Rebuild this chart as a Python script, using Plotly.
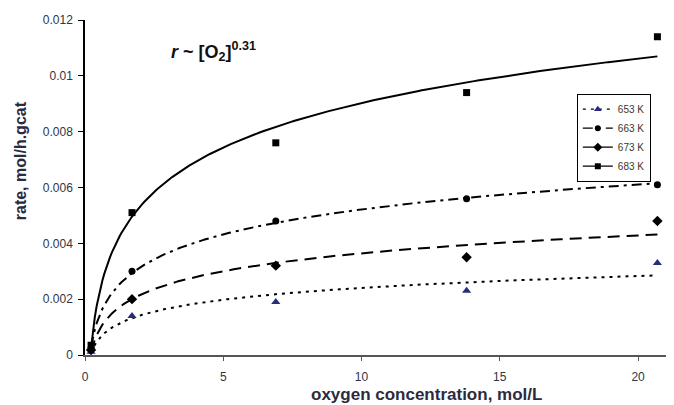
import numpy as np
import plotly.graph_objects as go

# ---- data ----
conc = [0.22, 1.7, 6.9, 13.8, 20.7]
rate_653 = [0.00012, 0.0014, 0.0019, 0.0023, 0.0033]
rate_663 = [0.00025, 0.0030, 0.0048, 0.0056, 0.0061]
rate_673 = [0.00018, 0.0020, 0.0032, 0.0035, 0.0048]
rate_683 = [0.00035, 0.0051, 0.0076, 0.0094, 0.0114]
series_names = ["653 K", "663 K", "673 K", "683 K"]
x_ticks = [0, 5, 10, 15, 20]
y_ticks = [0, 0.002, 0.004, 0.006, 0.008, 0.01, 0.012]
y_tick_labels = ["0", "0.002", "0.004", "0.006", "0.008", "0.01", "0.012"]
x_title = "oxygen concentration, mol/L"
y_title = "rate, mol/h.gcat"

styles = [
    dict(symbol="triangle-up", size=8, color="#2b2b7d", dash="3px,5px"),
    dict(symbol="circle", size=7, color="#000000", dash="10px,5px,3px,5px"),
    dict(symbol="diamond", size=8, color="#000000", dash="12px,7px"),
    dict(symbol="square", size=7, color="#000000", dash="solid"),
]

fig = go.Figure()
all_rates = [rate_653, rate_663, rate_673, rate_683]
xs = np.array(conc)
xfit = np.linspace(xs.min(), xs.max(), 300)
for name, ys, st in zip(series_names, all_rates, styles):
    # logarithmic trendline (least squares on ln x), as a spreadsheet would
    a, c = np.polyfit(np.log(xs), np.array(ys), 1)
    yfit = a * np.log(xfit) + c
    fig.add_trace(go.Scatter(x=xfit, y=yfit, mode="lines", showlegend=False,
                             line=dict(color="black", width=2, dash=st["dash"]),
                             hoverinfo="skip"))
    fig.add_trace(go.Scatter(x=conc, y=ys, mode="markers", showlegend=False,
                             marker=dict(symbol=st["symbol"], size=st["size"], color=st["color"])))
    fig.add_trace(go.Scatter(x=[None], y=[None], mode="lines+markers", name=name,
                             line=dict(color="black", width=1.2, dash=st["dash"]),
                             marker=dict(symbol=st["symbol"], size=st["size"] - 1, color=st["color"])))

fig.add_annotation(x=3.05, y=0.01086, xref="x", yref="y", xanchor="left", yanchor="middle",
                   text="<b><i>r</i> ~ [O<sub>2</sub>]<sup>0.31</sup></b>", showarrow=False,
                   font=dict(family="Liberation Sans, Arial", size=18, color="#111111"))

# axis titles (the source centres them on a wider, cropped plot area)
fig.add_annotation(x=0.579, y=-0.118, xref="paper", yref="paper",
                   xanchor="center", yanchor="middle", showarrow=False,
                   text="<b>" + x_title + "</b>",
                   font=dict(family="Liberation Sans, Arial", size=17, color="#2b2b3f"))
fig.add_annotation(x=-0.110, y=0.579, xref="paper", yref="paper",
                   xanchor="center", yanchor="middle", showarrow=False, textangle=-90,
                   text="<b>" + y_title + "</b>",
                   font=dict(family="Liberation Sans, Arial", size=16, color="#2b2b3f"))

# the page adds an 8px body margin, so the margins below are offset by 8px
fig.update_layout(
    width=674, height=405,
    margin=dict(l=77, r=8, t=12, b=58),
    paper_bgcolor="white", plot_bgcolor="white",
    font=dict(family="Liberation Sans, Arial", color="#333344"),
    legend=dict(x=0.835, y=0.78, xanchor="left", yanchor="top",
                bgcolor="white", bordercolor="black", borderwidth=1,
                font=dict(size=10, color="#3d3528"), tracegroupgap=0,
                itemwidth=30),
)
fig.update_xaxes(range=[0, 21.3], tickvals=x_ticks, ticks="outside", ticklen=4,
                 tickcolor="#555555", showline=True, linecolor="#555555", linewidth=2,
                 showgrid=False, zeroline=False, automargin=False, ticklabelstandoff=6,
                 tickfont=dict(size=12, color="#333344"))
fig.update_yaxes(range=[0, 0.012], tickvals=y_ticks, ticktext=y_tick_labels,
                 ticks="outside", ticklen=5, tickcolor="black",
                 showline=True, linecolor="black", linewidth=1.5,
                 showgrid=False, zeroline=False, automargin=False, ticklabelstandoff=3,
                 tickfont=dict(size=12, color="#333344"))

fig.write_html("out.html")
